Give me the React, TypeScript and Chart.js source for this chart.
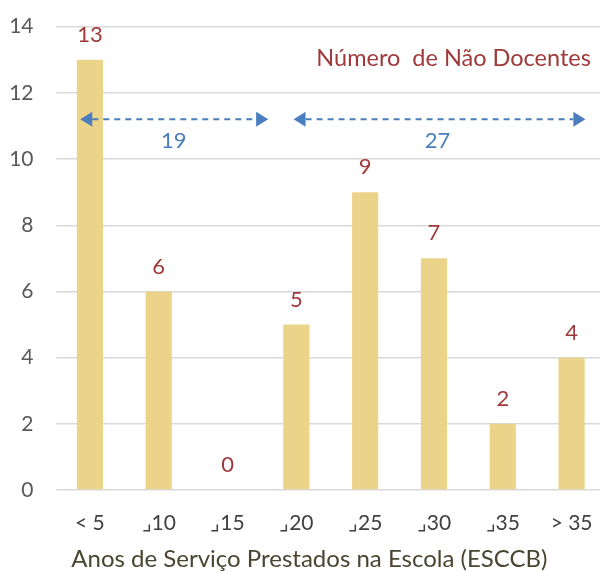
import React, { useEffect, useRef } from "react";
import { Chart, registerables } from "chart.js";

Chart.register(...registerables);

const categories = ["< 5", "⌟10", "⌟15", "⌟20", "⌟25", "⌟30", "⌟35", "> 35"];
const values = [13, 6, 0, 5, 9, 7, 2, 4];
const yTicks = [0, 2, 4, 6, 8, 10, 12, 14];
const chartTitle = "Número  de Não Docentes";
const xTitle = "Anos de Serviço Prestados na Escola (ESCCB)";
// group spans (fractional category index) with totals
const groupStart = [-0.14, 2.96];
const groupEnd = [2.59, 7.2];
const groupTotals = ["19", "27"];
const groupLabelX = [1.22, 5.05];
const arrowY = 11.2;
const groupLabelY = 10.55;

const FONT = "Lato, 'Open Sans', sans-serif";
const RED = "#A03A3A";
const BLUE = "#4A7EBF";

const overlay = {
  id: "overlay",
  afterDatasetsDraw(chart: any) {
    const ctx = chart.ctx;
    const xs = chart.scales.x;
    const ys = chart.scales.y;
    const step = xs.getPixelForValue(1) - xs.getPixelForValue(0);
    const px = (f: number) => xs.getPixelForValue(0) + f * step;
    ctx.save();
    // data labels
    ctx.fillStyle = RED;
    ctx.font = `22px ${FONT}`;
    ctx.textAlign = "center";
    ctx.textBaseline = "middle";
    values.forEach((v, i) => {
      ctx.fillText(String(v), xs.getPixelForValue(i), ys.getPixelForValue(v) - 25);
    });
    // title
    ctx.font = `23.5px ${FONT}`;
    ctx.textAlign = "right";
    ctx.fillText(chartTitle, px(7.28), ys.getPixelForValue(13.05));
    // x axis title
    ctx.fillStyle = "#4A4530";
    ctx.font = `24px ${FONT}`;
    ctx.textAlign = "center";
    ctx.fillText(xTitle, px(3.19), chart.height - 13);
    // arrows
    const y = ys.getPixelForValue(arrowY);
    ctx.strokeStyle = BLUE;
    ctx.fillStyle = BLUE;
    ctx.lineWidth = 2;
    for (let g = 0; g < groupStart.length; g++) {
      const x1 = px(groupStart[g]);
      const x2 = px(groupEnd[g]);
      const hl = 12, hh = 7.5;
      ctx.setLineDash([6, 5]);
      ctx.beginPath();
      ctx.moveTo(x1 + hl, y);
      ctx.lineTo(x2 - hl, y);
      ctx.stroke();
      ctx.setLineDash([]);
      ctx.beginPath();
      ctx.moveTo(x1, y);
      ctx.lineTo(x1 + hl, y - hh);
      ctx.lineTo(x1 + hl, y + hh);
      ctx.closePath();
      ctx.fill();
      ctx.beginPath();
      ctx.moveTo(x2, y);
      ctx.lineTo(x2 - hl, y - hh);
      ctx.lineTo(x2 - hl, y + hh);
      ctx.closePath();
      ctx.fill();
      ctx.font = `22px ${FONT}`;
      ctx.textAlign = "center";
      ctx.fillText(groupTotals[g], px(groupLabelX[g]), ys.getPixelForValue(groupLabelY));
    }
    ctx.restore();
  },
};

export default function App() {
  const ref = useRef<HTMLCanvasElement>(null);
  useEffect(() => {
    if (!ref.current) return;
    const chart = new Chart(ref.current, {
      type: "bar",
      data: {
        labels: categories,
        datasets: [
          {
            data: values,
            backgroundColor: "#EBD48A",
            borderWidth: 0,
            categoryPercentage: 1,
            barPercentage: 0.38,
          },
        ],
      },
      options: {
        animation: false,
        responsive: false,
        maintainAspectRatio: false,
        layout: { padding: { top: 26.7, right: 0, left: 0, bottom: 0 } },
        plugins: { legend: { display: false }, tooltip: { enabled: false } },
        scales: {
          x: {
            grid: { display: false },
            border: { display: false },
            ticks: { font: { family: FONT, size: 21 }, color: "#404040", padding: 13, maxRotation: 0 },
            afterFit: (s: any) => { s.height = 82; },
          },
          y: {
            min: 0,
            max: 14,
            afterBuildTicks: (s: any) => { s.ticks = yTicks.map((v) => ({ value: v })); },
            grid: { color: "#D9D9D9", lineWidth: 1.5, drawTicks: false },
            border: { display: false },
            ticks: { font: { family: FONT, size: 21 }, color: "#595959", padding: 22 },
            afterFit: (s: any) => { s.width = 55.5; s.paddingTop = 0; s.paddingBottom = 0; },
          },
        },
      },
      plugins: [overlay],
    });
    return () => chart.destroy();
  }, []);
  return (
    <div style={{ position: "fixed", left: 0, top: 0, width: 600, height: 572, overflow: "hidden", background: "#fff" }}>
      <canvas ref={ref} width={606} height={572} style={{ display: "block" }} />
    </div>
  );
}
